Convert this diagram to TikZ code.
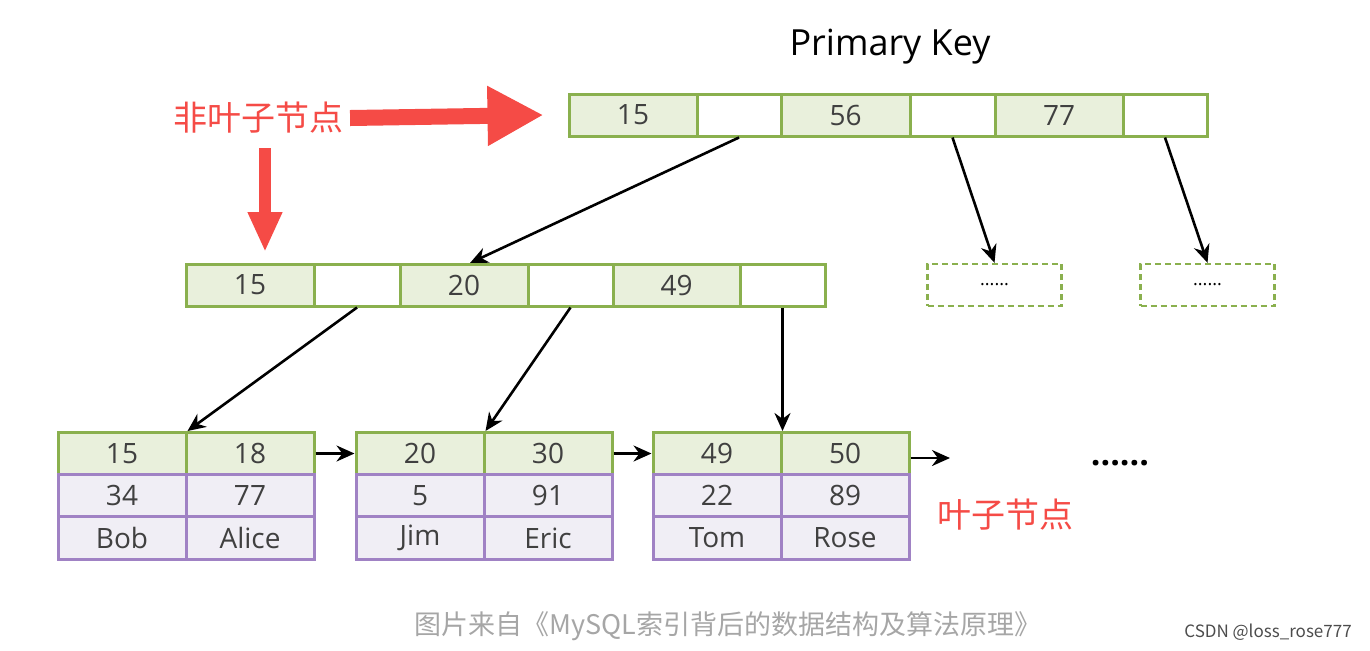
\documentclass[tikz,border=0pt]{standalone}
\usepackage{fontspec}
\setmainfont{Open Sans}
\newfontfamily\cjk{Noto Sans CJK SC}
\usetikzlibrary{arrows.meta}
\definecolor{keygreen}{RGB}{138,176,78}
\definecolor{keyfill}{RGB}{233,240,220}
\definecolor{rowpurple}{RGB}{160,130,196}
\definecolor{rowfill}{RGB}{240,238,245}
\definecolor{hintred}{RGB}{245,75,70}
\begin{document}
\begin{tikzpicture}[x=0.5pt,y=-0.5pt,
  key_cell/.style={draw=keygreen,fill=keyfill,line width=1.5pt,minimum height=21pt,inner sep=0pt,font=\fontsize{14}{16}\selectfont,text=black!75},
  ptr_cell/.style={key_cell,fill=white},
  row_cell/.style={key_cell,draw=rowpurple,fill=rowfill,minimum height=21.5pt},
  more_box/.style={draw=keygreen,line width=1.2pt,dash pattern=on 3pt off 2pt,minimum width=67pt,minimum height=21pt,font=\small},
  link/.style={-{Stealth[length=9pt,width=8pt]},line width=1.3pt},
  hint/.style={text=hintred,font=\cjk\fontsize{17}{19}\selectfont},
  hint_arrow/.style={hintred,line width=8pt,-{Triangle[length=28pt,width=28pt]}}]
\useasboundingbox (0,0) rectangle (1370,650);

\node at (890,47) {\fontsize{18}{20}\selectfont Primary Key};

% root
\node[key_cell,minimum width=64pt] (r1) at (633,115) {15};
\node[ptr_cell,minimum width=42pt] (r2) at (739,115) {};
\node[key_cell,minimum width=64.5pt] (r3) at (845.5,115) {56};
\node[ptr_cell,minimum width=42.5pt] (r4) at (952.5,115) {};
\node[key_cell,minimum width=64pt] (r5) at (1059,115) {77};
\node[ptr_cell,minimum width=42pt] (r6) at (1165,115) {};

% middle
\node[key_cell,minimum width=64pt] (m1) at (250,285) {15};
\node[ptr_cell,minimum width=43pt] (m2) at (357,285) {};
\node[key_cell,minimum width=64pt] (m3) at (464,285) {20};
\node[ptr_cell,minimum width=42.5pt] (m4) at (570.5,285) {};
\node[key_cell,minimum width=63.5pt] (m5) at (676.5,285) {49};
\node[ptr_cell,minimum width=42.5pt] (m6) at (782.5,285) {};
\coordinate (m3in) at (470,263);

\node[more_box] (d1) at (994.5,285) {......};
\node[more_box] (d2) at (1207.5,285) {......};

% leaves
\foreach \n/\x/\ka/\kb/\va/\vb/\na/\nb in {1/58/15/18/34/77/Bob/Alice,2/356/20/30/5/91/Jim/Eric,3/653/49/50/22/89/Tom/Rose}{
  \node[key_cell,minimum width=64pt] (l\n a) at (\x+64,453.5) {\ka};
  \node[key_cell,minimum width=64pt] (l\n b) at (\x+192,453.5) {\kb};
  \node[row_cell,minimum width=64pt] (v\n a) at (\x+64,495.5) {\va};
  \node[row_cell,minimum width=64pt] (v\n b) at (\x+192,495.5) {\vb};
  \node[row_cell,minimum width=64pt] (n\n a) at (\x+64,538) {\na};
  \node[row_cell,minimum width=64pt] (n\n b) at (\x+192,538) {\nb};
}
\node (more) at (1120,463) {\fontsize{17}{19}\selectfont\bfseries ......};
\coordinate (tail) at (950,458);

\draw[link] (r2.south) -- (m3in);
\draw[link] (r4.south) -- (d1.north);
\draw[link] (r6.south) -- (d2.north);
\draw[link] (m2.south) -- (l1a.north east);
\draw[link] (m4.south) -- (l2a.north east);
\draw[link] (m6.south) -- (l3a.north east);
\draw[link] (l1b.east) -- (l2a.west);
\draw[link] (l2b.east) -- (l3a.west);
\draw[link] (l3b.east |- tail) -- (tail);

\node[hint] (inner) at (258,118) {非叶子节点};
\node[hint] (leaf) at (1005,515) {叶子节点};
\draw[hint_arrow] (inner.east) -- ([xshift=-12]r1.west);
\draw[hint_arrow,line width=6pt,-{Triangle[length=20pt,width=16pt]}] (265,148) -- (265,252);

\node[text=black!35,font=\cjk\fontsize{13.5}{15}\selectfont] (src) at (728,626) {图片来自《MySQL索引背后的数据结构及算法原理》};
\node[text=black!70,font=\cjk\fontsize{8.5}{10}\selectfont] (mark) at (1268,632) {CSDN @loss\_rose777};
\end{tikzpicture}
\end{document}
